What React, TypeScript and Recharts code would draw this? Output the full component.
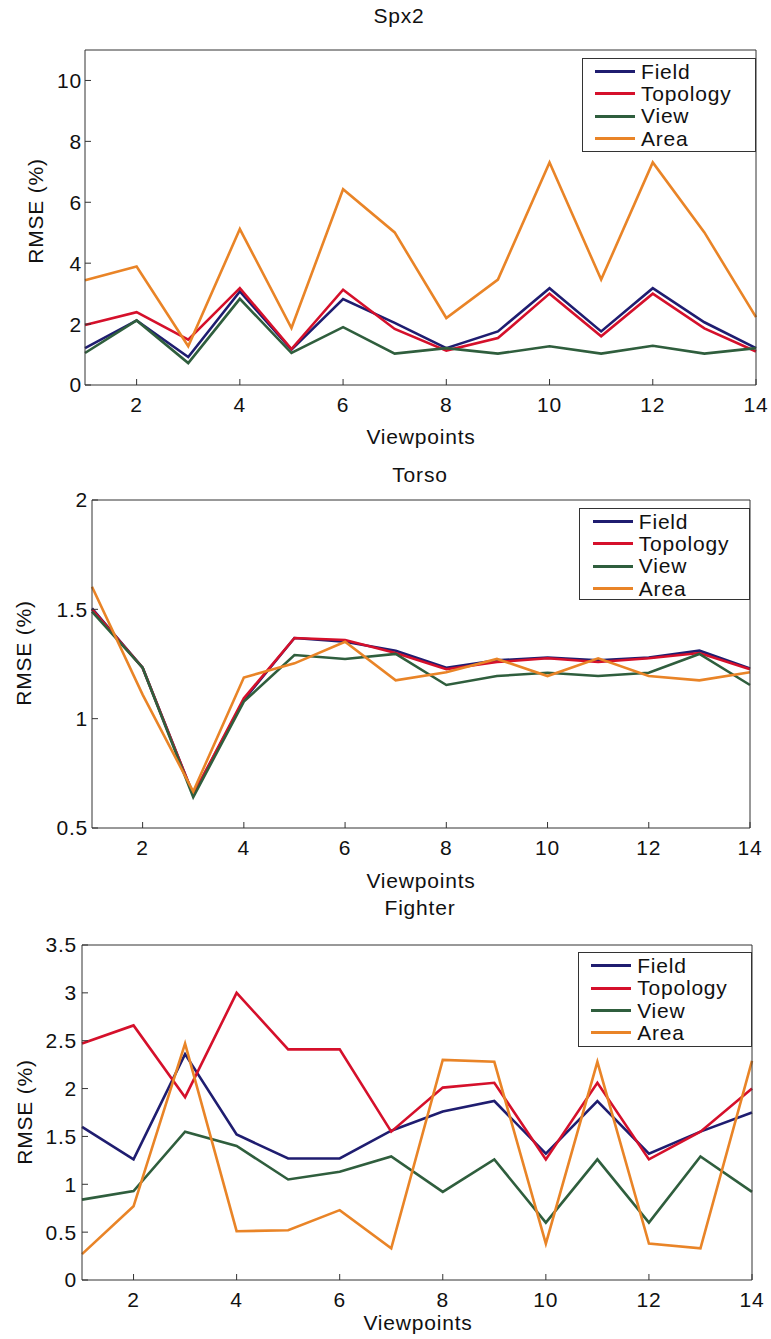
import React from 'react';
import { LineChart, Line, XAxis, YAxis } from 'recharts';

// viewpoint index shared by all three panels
const viewpoints = [1, 2, 3, 4, 5, 6, 7, 8, 9, 10, 11, 12, 13, 14];
const xTicks = [2, 4, 6, 8, 10, 12, 14];

const seriesKeys = ['field', 'topology', 'view', 'area'];
const seriesNames = ['Field', 'Topology', 'View', 'Area'];
const seriesColors = ['#1f1d70', '#d5102b', '#2f5e3d', '#e98427'];

// Spx2
const spx2Field = [1.21, 2.12, 0.92, 3.07, 1.16, 2.82, 2.04, 1.21, 1.76, 3.18, 1.76, 3.18, 2.06, 1.21];
const spx2Topology = [1.97, 2.39, 1.49, 3.18, 1.18, 3.13, 1.84, 1.13, 1.54, 3.0, 1.6, 3.0, 1.86, 1.1];
const spx2View = [1.05, 2.12, 0.72, 2.83, 1.05, 1.9, 1.03, 1.21, 1.03, 1.27, 1.03, 1.29, 1.03, 1.21];
const spx2Area = [3.44, 3.89, 1.27, 5.12, 1.87, 6.43, 5.01, 2.2, 3.46, 7.31, 3.46, 7.31, 5.01, 2.23];
const spx2YTicks = [0, 2, 4, 6, 8, 10];

// Torso
const torsoField = [1.504, 1.233, 0.652, 1.086, 1.369, 1.352, 1.311, 1.233, 1.267, 1.279, 1.267, 1.279, 1.311, 1.23];
const torsoTopology = [1.5, 1.233, 0.652, 1.093, 1.369, 1.36, 1.3, 1.226, 1.259, 1.276, 1.259, 1.276, 1.3, 1.226];
const torsoView = [1.489, 1.233, 0.641, 1.078, 1.291, 1.273, 1.296, 1.154, 1.195, 1.21, 1.195, 1.21, 1.296, 1.154];
const torsoArea = [1.603, 1.11, 0.667, 1.188, 1.253, 1.352, 1.175, 1.212, 1.273, 1.195, 1.276, 1.195, 1.175, 1.212];
const torsoYTicks = [0.5, 1, 1.5, 2];

// Fighter
const fighterField = [1.6, 1.26, 2.36, 1.52, 1.27, 1.27, 1.56, 1.76, 1.87, 1.32, 1.87, 1.32, 1.55, 1.75];
const fighterTopology = [2.47, 2.66, 1.91, 3.0, 2.41, 2.41, 1.55, 2.01, 2.06, 1.26, 2.06, 1.26, 1.55, 2.0];
const fighterView = [0.84, 0.93, 1.55, 1.4, 1.05, 1.13, 1.29, 0.92, 1.26, 0.6, 1.26, 0.6, 1.29, 0.92];
const fighterArea = [0.27, 0.77, 2.47, 0.51, 0.52, 0.73, 0.33, 2.3, 2.28, 0.38, 2.28, 0.38, 0.33, 2.29];
const fighterYTicks = [0, 0.5, 1, 1.5, 2, 2.5, 3, 3.5];

const FONT = '"Liberation Sans", Arial, Helvetica, sans-serif';
const FONT_SIZE = 21;
const SPACING = 0.8;
const AXIS = '#333';

const buildRows = (cols: number[][]) =>
  viewpoints.map((vp, i) => {
    const row: any = { vp };
    seriesKeys.forEach((k, j) => (row[k] = cols[j][i]));
    return row;
  });

const Label = ({ x, y, text, rotate }: { x: number; y: number; text: string; rotate?: boolean }) => (
  <div
    style={{
      position: 'absolute',
      left: x,
      top: y,
      fontFamily: FONT,
      fontSize: FONT_SIZE,
      letterSpacing: SPACING,
      lineHeight: '21px',
      color: '#111',
      whiteSpace: 'nowrap',
      transform: rotate ? 'translate(-50%, -50%) rotate(-90deg)' : 'translateX(-50%)',
    }}
  >
    {text}
  </div>
);

const LegendBox = ({ left, top, width, height }: { left: number; top: number; width: number; height: number }) => (
  <div
    style={{
      position: 'absolute',
      left,
      top,
      width,
      height,
      boxSizing: 'border-box',
      border: `1px solid ${AXIS}`,
      background: '#fff',
      paddingTop: 1.5,
      fontFamily: FONT,
      fontSize: FONT_SIZE,
      letterSpacing: SPACING,
      color: '#111',
    }}
  >
    {seriesNames.map((name, i) => (
      <div key={name} style={{ display: 'flex', alignItems: 'center', height: 22.3 }}>
        <div style={{ marginLeft: 12.5, width: 40, height: 3, background: seriesColors[i] }} />
        <div style={{ marginLeft: 6, lineHeight: '22px' }}>{name}</div>
      </div>
    ))}
  </div>
);

interface PanelProps {
  top: number;
  height: number;
  // plot box edges, in px inside the panel
  plot: { top: number; right: number; bottom: number; left: number };
  data: any[];
  yDomain: [number, number];
  yTicks: number[];
  yGap: number;
}

const Panel = ({ top, height, plot, data, yDomain, yTicks, yGap }: PanelProps) => {
  const tickStyle = { fontFamily: FONT, fontSize: FONT_SIZE, fill: '#111', letterSpacing: SPACING };
  // each axis takes 1px, so the margins are one less than the plot edges
  const margin = { top: plot.top - 1, right: plot.right - 1, bottom: plot.bottom - 1, left: plot.left - 1 };
  return (
    <div style={{ position: 'absolute', left: 0, top }}>
      <LineChart width={771} height={height} data={data} margin={margin}>
        <XAxis
          dataKey="vp"
          type="number"
          domain={[1, 14]}
          ticks={xTicks}
          height={1}
          tickSize={-6}
          tickMargin={18}
          stroke={AXIS}
          tick={tickStyle}
          interval={0}
        />
        <XAxis
          xAxisId="top"
          orientation="top"
          type="number"
          domain={[1, 14]}
          allowDataOverflow
          ticks={xTicks}
          height={1}
          tickSize={-6}
          tick={false}
          stroke={AXIS}
        />
        <YAxis
          type="number"
          domain={yDomain}
          allowDataOverflow
          ticks={yTicks}
          width={1}
          tickSize={-6}
          tickMargin={6 + yGap}
          stroke={AXIS}
          tick={tickStyle}
          interval={0}
          tickFormatter={(v) => String(v)}
        />
        <YAxis
          yAxisId="right"
          orientation="right"
          type="number"
          domain={yDomain}
          allowDataOverflow
          ticks={yTicks}
          width={1}
          tickSize={-6}
          tick={false}
          stroke={AXIS}
        />
        {seriesKeys.map((k, i) => (
          <Line
            key={k}
            type="linear"
            dataKey={k}
            name={seriesNames[i]}
            stroke={seriesColors[i]}
            strokeWidth={2.6}
            dot={false}
            activeDot={false}
            isAnimationActive={false}
          />
        ))}
      </LineChart>
    </div>
  );
};

export default function App() {
  const spx2 = buildRows([spx2Field, spx2Topology, spx2View, spx2Area]);
  const torso = buildRows([torsoField, torsoTopology, torsoView, torsoArea]);
  const fighter = buildRows([fighterField, fighterTopology, fighterView, fighterArea]);

  return (
    <div style={{ position: 'absolute', left: 0, top: 0, width: 771, height: 1339, background: '#fff' }}>
      <Panel top={0} height={440} plot={{ top: 50, right: 15, bottom: 55, left: 85 }} data={spx2} yDomain={[0, 11]} yTicks={spx2YTicks} yGap={3} />
      <Panel top={440} height={440} plot={{ top: 60, right: 21, bottom: 52, left: 92 }} data={torso} yDomain={[0.5, 2]} yTicks={torsoYTicks} yGap={4} />
      <Panel top={880} height={459} plot={{ top: 65, right: 19, bottom: 59, left: 82 }} data={fighter} yDomain={[0, 3.5]} yTicks={fighterYTicks} yGap={5} />

      <Label x={399} y={5} text="Spx2" />
      <Label x={421} y={426} text="Viewpoints" />
      <Label x={35} y={211} text="RMSE (%)" rotate />
      <LegendBox left={581.5} top={58} width={174.5} height={94} />

      <Label x={420} y={464} text="Torso" />
      <Label x={421} y={870} text="Viewpoints" />
      <Label x={23} y={653} text="RMSE (%)" rotate />
      <LegendBox left={579.3} top={508} width={171} height={92} />

      <Label x={420} y={897} text="Fighter" />
      <Label x={418} y={1312} text="Viewpoints" />
      <Label x={24} y={1112} text="RMSE (%)" rotate />
      <LegendBox left={577.7} top={952.3} width={174} height={94.4} />
    </div>
  );
}
